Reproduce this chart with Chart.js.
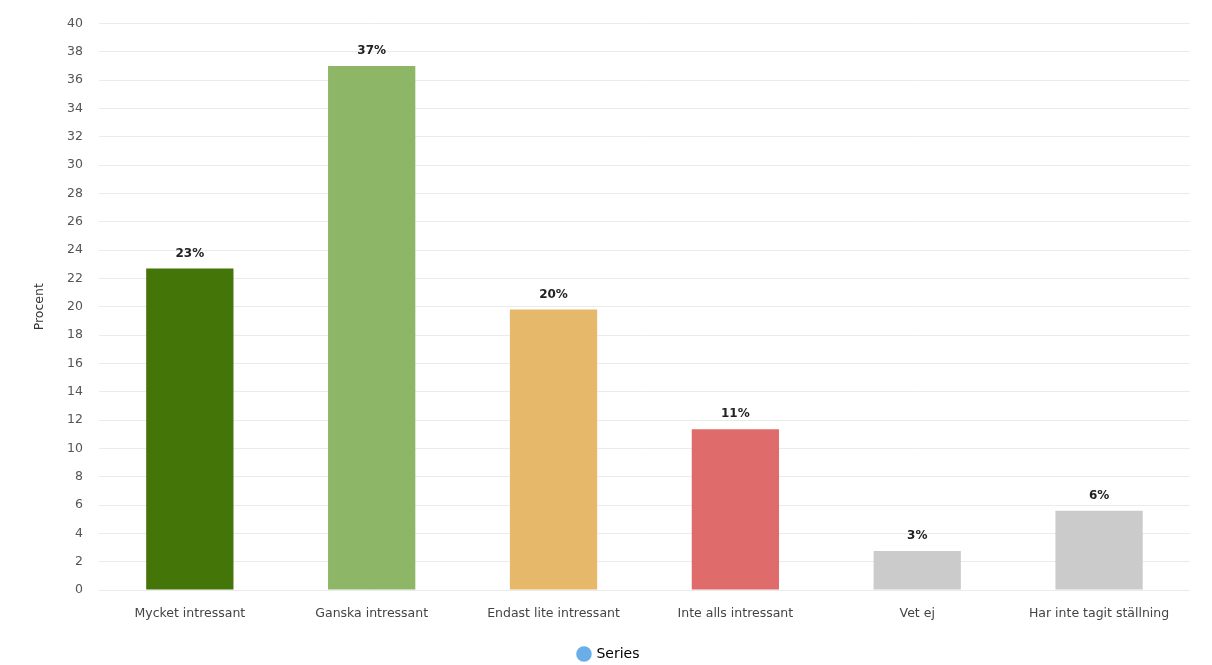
<!DOCTYPE html>
<html>
<head>
<meta charset="utf-8">
<script src="https://cdn.jsdelivr.net/npm/chart.js@4"></script>
<style>
  body { margin: 0; background: #fff; }
  #wrap { width: 1212px; height: 665px; position: relative; }
</style>
</head>
<body>
<div id="wrap"><canvas id="chart"></canvas></div>
<script>
const categories = [
    "Mycket intressant",
    "Ganska intressant",
    "Endast lite intressant",
    "Inte alls intressant",
    "Vet ej",
    "Har inte tagit ställning"
]

const values = [22.7, 37.0, 19.8, 11.35, 2.75, 5.6]

const valueLabels = ["23%", "37%", "20%", "11%", "3%", "6%"]

const barColors = ["#437509", "#8db766", "#e6b96a", "#e06b6b", "#cbcbcb", "#cbcbcb"]

const FONT = "'DejaVu Sans'"

// skriver procenten ovanför varje stapel
const barLabels = {
    id: "barLabels",
    afterDatasetsDraw(chart) {
        const ctx = chart.ctx
        const meta = chart.getDatasetMeta(0)
        ctx.save()
        ctx.font = "bold 12px " + FONT
        ctx.fillStyle = "#222"
        ctx.textAlign = "center"
        ctx.textBaseline = "bottom"
        meta.data.forEach((bar, i) => {
            ctx.fillText(valueLabels[i], bar.x, bar.y - 9)
        })
        ctx.restore()
    }
}

new Chart(
    document.getElementById("chart"),
    {
        type: "bar",

        data: {
            labels: categories,

            datasets: [{
                label: "Series",
                data: values,
                backgroundColor: barColors,
                barPercentage: 0.48,
                categoryPercentage: 1
            }]
        },

        options: {
            responsive: true,
            maintainAspectRatio: false,
            animation: false,
            layout: {
                padding: { top: 14, right: 22, left: 28, bottom: -6 }
            },

            plugins: {
                legend: {
                    position: "bottom",
                    labels: {
                        usePointStyle: true,
                        pointStyle: "circle",
                        boxWidth: 11,
                        boxHeight: 11,
                        padding: 1,
                        color: "#333",
                        font: { family: FONT, size: 14 },
                        generateLabels: () => [{
                            text: "Series",
                            fillStyle: "#6aaee8",
                            strokeStyle: "#6aaee8",
                            pointStyle: "circle",
                            lineWidth: 0
                        }]
                    }
                },
                tooltip: { enabled: false }
            },

            scales: {
                x: {
                    ticks: {
                        color: "#444",
                        font: { family: FONT, size: 12.5 },
                        padding: 8
                    },
                    grid: { display: false },
                    border: { display: false },
                    afterFit(axis) {
                        axis.height += 17
                    }
                },

                y: {
                    min: 0,
                    max: 40,
                    ticks: {
                        stepSize: 2,
                        color: "#555",
                        font: { family: FONT, size: 12.5 },
                        padding: 16
                    },
                    grid: {
                        color: "#ebebeb",
                        drawTicks: false
                    },
                    border: { display: false },
                    title: {
                        display: true,
                        text: "Procent",
                        color: "#333",
                        font: { family: FONT, size: 12.5 }
                    }
                }
            }
        },

        plugins: [barLabels]
    }
)
</script>
</body>
</html>
